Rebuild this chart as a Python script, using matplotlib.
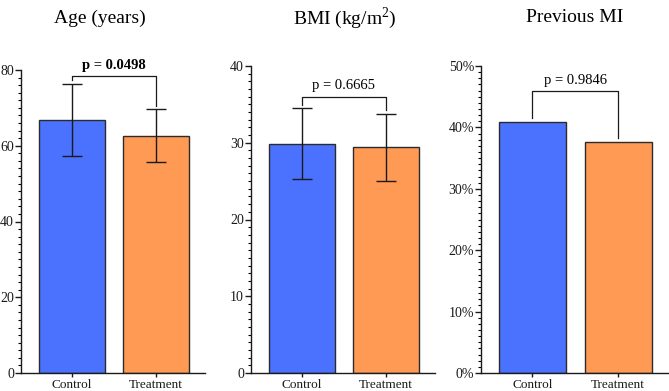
import numpy as np
import matplotlib
matplotlib.use("Agg")
import matplotlib.pyplot as plt
from matplotlib.ticker import MultipleLocator, PercentFormatter

plt.rcParams['font.family'] = ['Liberation Serif', 'DejaVu Serif']
plt.rcParams['mathtext.fontset'] = 'custom'
plt.rcParams['mathtext.rm'] = 'Liberation Serif'

groups = ["Control", "Treatment"]
colors = ["#4a72ff", "#ff9a55"]

age_mean = [66.8, 62.6]
age_sd = [9.5, 7.0]
bmi_mean = [29.9, 29.4]
bmi_sd = [4.6, 4.4]
mi_pct = [40.9, 37.6]

titles = ["Age (years)", "BMI (kg/m$^\\mathregular{2}$)", "Previous MI"]
pvals = ["p = 0.0498", "p = 0.6665", "p = 0.9846"]
p_bold = [True, False, False]

fig = plt.figure(figsize=(6.69, 3.91), dpi=100)

# axes boxes in pixels: left, right, top (bottom shared)
W, H = 669, 391
bottom = 373
boxes = [(21, 205, 70), (251, 435, 66), (481, 668, 66)]
axes = []
for l, r, t in boxes:
    axes.append(fig.add_axes([l / W, (H - bottom) / H, (r - l) / W, (bottom - t) / H]))

panels = [
    (age_mean, age_sd, 80, 20, 2, 78.4),
    (bmi_mean, bmi_sd, 40, 10, 1, 36.0),
    (mi_pct, None, 50, 10, 1, 45.9),
]

x = np.arange(2)
for i, (ax, (vals, err, ymax, major, minor, bracket_y)) in enumerate(zip(axes, panels)):
    ax.bar(x, vals, width=0.78, color=colors, edgecolor="#2b2b2b", linewidth=1.0, zorder=2)
    if err is not None:
        ax.errorbar(x, vals, yerr=err, fmt="none", ecolor="#1a1a1a", elinewidth=1.0,
                    capsize=7, capthick=1.0, zorder=3)
        tops = [v + e for v, e in zip(vals, err)]
    else:
        tops = vals
    gap = ymax * 0.012
    ax.plot([0, 0, 1, 1], [tops[0] + gap, bracket_y, bracket_y, tops[1] + gap],
            color="#1a1a1a", lw=0.9, zorder=3)
    ax.text(0.5, bracket_y + ymax * 0.015, pvals[i], ha="center", va="bottom",
            fontsize=10.5, fontweight="bold" if p_bold[i] else "normal")

    ax.set_ylim(0, ymax)
    ax.set_xlim(-0.6, 1.58)
    ax.yaxis.set_major_locator(MultipleLocator(major))
    ax.yaxis.set_minor_locator(MultipleLocator(minor))
    if i == 2:
        ax.yaxis.set_major_formatter(PercentFormatter(decimals=0))
    ax.set_xticks(x)
    ax.set_xticklabels(groups)
    for s in ["top", "right"]:
        ax.spines[s].set_visible(False)
    for s in ["left", "bottom"]:
        ax.spines[s].set_linewidth(1.0)
        ax.spines[s].set_color("#1a1a1a")
    ax.tick_params(axis="y", which="major", length=4, width=1.0, labelsize=10, pad=1,
                   colors="#1a1a1a")
    ax.tick_params(axis="y", which="minor", length=2, width=0.8)
    ax.tick_params(axis="x", length=3, width=1.0, labelsize=9.5, pad=1, colors="#1a1a1a")

title_x = [100, 345, 575]
for tx, t in zip(title_x, titles):
    fig.text(tx / W, 1 - 18 / H, t, ha="center", va="center", fontsize=14)

fig.savefig("out.png", dpi=100)
